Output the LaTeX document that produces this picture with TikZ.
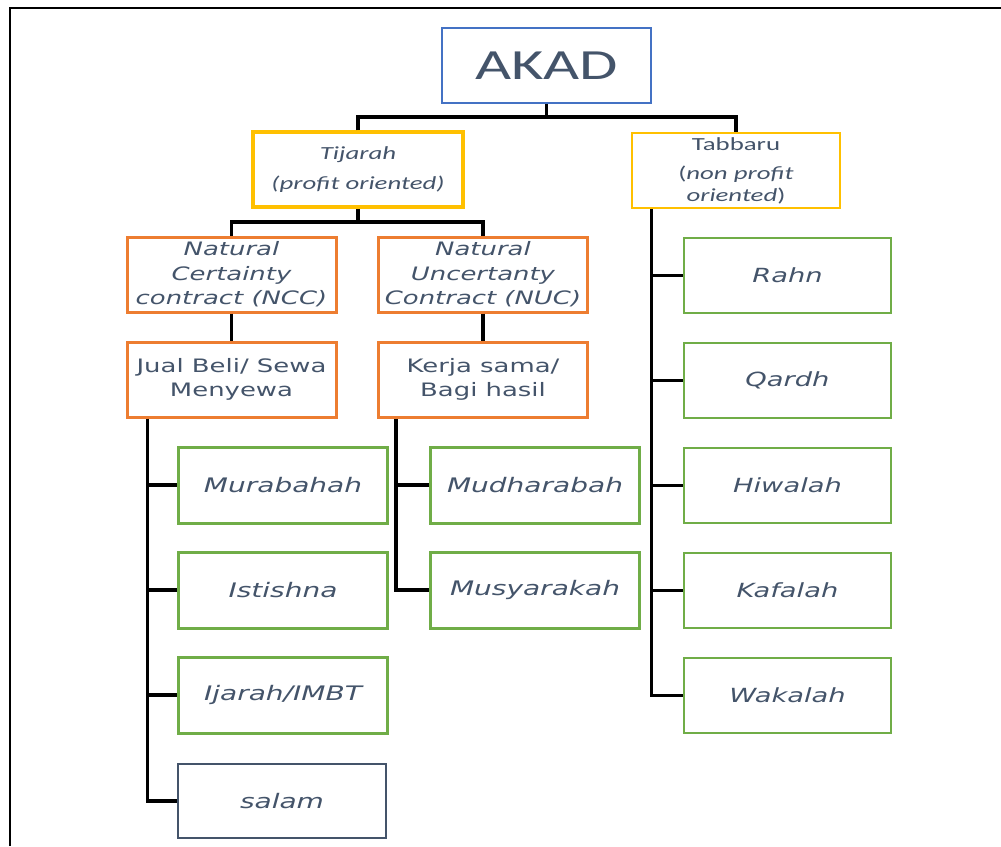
\documentclass[tikz,border=0pt]{standalone}
\usepackage{fontspec}
\newfontfamily\dv[FakeStretch=1.4]{DejaVu Sans}
\newfontfamily\cb[FakeStretch=1.45]{Carlito}
\definecolor{tx}{HTML}{44546A}
\definecolor{blueb}{HTML}{4472C4}
\definecolor{goldb}{HTML}{FFC000}
\definecolor{orangeb}{HTML}{ED7D31}
\definecolor{greenb}{HTML}{70AD47}
\tikzset{
  base/.style={rectangle, inner sep=0pt, align=center, text=tx, minimum height=75pt},
  akadbox/.style={base, draw=blueb, line width=1.5pt, minimum width=209pt, font=\cb\fontsize{43}{50}\selectfont},
  tijbox/.style={base, draw=goldb, line width=3.5pt, minimum width=210pt, font=\cb\itshape\fontsize{18.5}{22}\selectfont},
  tabbox/.style={base, draw=goldb, line width=1.5pt, minimum width=208pt, font=\cb\fontsize{18.5}{22}\selectfont},
  orbox/.style={base, draw=orangeb, line width=3pt, minimum width=209pt, font=\dv\fontsize{18.5}{24.5}\selectfont},
  leafl/.style={base, draw=greenb, line width=3pt, minimum width=209pt, minimum height=76pt, font=\dv\itshape\fontsize{20}{24}\selectfont},
  leafr/.style={base, draw=greenb, line width=1.5pt, minimum width=207pt, font=\dv\itshape\fontsize{19.5}{24}\selectfont},
  salambox/.style={base, draw=tx, line width=1.5pt, minimum width=208pt, minimum height=74pt, font=\dv\itshape\fontsize{20}{24}\selectfont},
  conn/.style={line width=3.5pt, black, line join=miter}
}
\begin{document}
\begin{tikzpicture}[x=1pt,y=-1pt]
\useasboundingbox (0,0) rectangle (1001,846);
\draw[line width=2pt] (10,846) -- (10,8) -- (1001,8);

\node[akadbox] (akad) at (546.5,65.5) {AKAD};
\node[tijbox] (tij) at (358,169.5) {Tijarah\\[8pt](profit oriented)};
\node[tabbox] (tab) at (736,170.5) {Tabbaru\\[7pt]({\itshape non profit}\\{\itshape oriented})};

\node[orbox] (ncc) at (231.5,274.5) {\itshape Natural\\\itshape Certainty\\\itshape contract (NCC)};
\node[orbox] (nuc) at (483,274.5) {\itshape Natural\\\itshape Uncertanty\\\itshape Contract (NUC)};
\node[orbox] (jual) at (231.5,379.5) {Jual Beli/ Sewa\\Menyewa};
\node[orbox] (kerja) at (483,379.5) {Kerja sama/\\Bagi hasil};

\node[leafl] (mur) at (283,485) {Murabahah};
\node[leafl] (ist) at (283,590) {Istishna};
\node[leafl] (ija) at (283,695) {Ijarah/IMBT};
\node[salambox] (sal) at (282,801) {salam};

\node[leafl] (mud) at (535,485) {Mudharabah};
\node[leafl] (mus) at (535,590) {Musyarakah};

\node[leafr] (rahn) at (787.5,275.5) {Rahn};
\node[leafr] (qar) at (787.5,380.5) {Qardh};
\node[leafr] (hiw) at (787.5,485.5) {Hiwalah};
\node[leafr] (kaf) at (787.5,590.5) {Kafalah};
\node[leafr] (wak) at (787.5,695.5) {Wakalah};

% connectors
\coordinate (b1) at (546.5,117);
\draw[conn] (tij.north) |- (b1) -| (tab.north);
\draw[conn] (akad.south) -- (b1);
\coordinate (b2) at (358,222);
\draw[conn] (ncc.north) |- (b2) -| (nuc.north);
\draw[conn] (tij.south) -- (b2);
\draw[conn] (ncc.south) -- (jual.north);
\draw[conn] (nuc.south) -- (kerja.north);

\coordinate (t1) at ([xshift=22pt]jual.south west);
\draw[conn] (t1) |- (sal.west);
\draw[conn] (t1 |- mur.west) -- (mur.west);
\draw[conn] (t1 |- ist.west) -- (ist.west);
\draw[conn] (t1 |- ija.west) -- (ija.west);

\coordinate (t2) at ([xshift=19pt]kerja.south west);
\draw[conn] (t2) |- (mus.west);
\draw[conn] (t2 |- mud.west) -- (mud.west);

\coordinate (t3) at ([xshift=20pt]tab.south west);
\draw[conn] (t3) |- (wak.west);
\draw[conn] (t3 |- rahn.west) -- (rahn.west);
\draw[conn] (t3 |- qar.west) -- (qar.west);
\draw[conn] (t3 |- hiw.west) -- (hiw.west);
\draw[conn] (t3 |- kaf.west) -- (kaf.west);
\end{tikzpicture}
\end{document}
